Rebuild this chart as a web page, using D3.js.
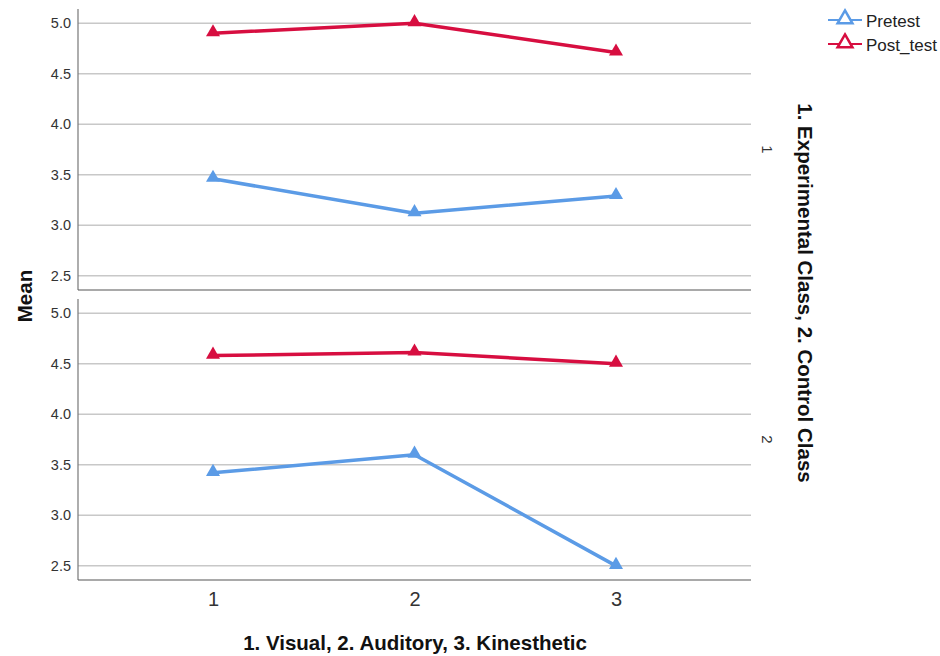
<!DOCTYPE html>
<html>
<head>
<meta charset="utf-8">
<script src="https://cdn.jsdelivr.net/npm/d3@7"></script>
<style>
  html, body { margin: 0; padding: 0; background: #fff; }
  svg { display: block; font-family: "Liberation Sans", Arial, sans-serif; }
</style>
</head>
<body>
<svg id="chart" width="940" height="656"></svg>
<script>
// Learning styles on the x axis, one panel per class
const styles = [1, 2, 3];
const classes = ["1", "2"];
const seriesNames = ["Pretest", "Post_test"];
const yTicks = [2.5, 3.0, 3.5, 4.0, 4.5, 5.0];

// Means per class: [Visual, Auditory, Kinesthetic]
const pretestExperimental = [3.46, 3.12, 3.29];
const posttestExperimental = [4.90, 5.00, 4.71];
const pretestControl = [3.42, 3.60, 2.50];
const posttestControl = [4.58, 4.61, 4.50];

const panelData = [
  { cls: classes[0], series: [pretestExperimental, posttestExperimental] },
  { cls: classes[1], series: [pretestControl, posttestControl] }
];
const colors = ["#5b9be6", "#d70e40"];

const svg = d3.select("#chart");
const left = 78, right = 751;
const panels = [{ top: 9, bottom: 290 }, { top: 299, bottom: 580 }];

const x = d3.scaleLinear().domain([0.33, 3.67]).range([left, right]);

const tri = d3.symbol().type(d3.symbolTriangle).size(85);

panelData.forEach((pd, i) => {
  const p = panels[i];
  const y = d3.scaleLinear().domain([2.36, 5.14]).range([p.bottom, p.top]);
  const g = svg.append("g");

  // gridlines
  g.selectAll("line.grid").data(yTicks).join("line")
    .attr("x1", left).attr("x2", right)
    .attr("y1", d => y(d)).attr("y2", d => y(d))
    .attr("stroke", "#c8c8c8").attr("stroke-width", 1.5);

  // y axis
  const yAxis = d3.axisLeft(y).tickValues(yTicks).tickFormat(d3.format(".1f")).tickSize(0).tickPadding(7);
  const ya = g.append("g").attr("transform", `translate(${left},0)`).call(yAxis);
  ya.select(".domain").remove();
  ya.selectAll("text").attr("font-size", 14.5).attr("fill", "#333")
    .attr("font-family", "'Liberation Sans', Arial, sans-serif");

  // frame: left edge and bottom edge
  g.append("line").attr("x1", left).attr("x2", left).attr("y1", p.top).attr("y2", p.bottom)
    .attr("stroke", "#777").attr("stroke-width", 1.2);
  g.append("line").attr("x1", left).attr("x2", right).attr("y1", p.bottom).attr("y2", p.bottom)
    .attr("stroke", "#555").attr("stroke-width", 1.2);

  // series lines and markers
  pd.series.forEach((vals, s) => {
    const pts = styles.map((st, k) => [st, vals[k]]);
    g.append("path").datum(pts)
      .attr("d", d3.line().x(d => x(d[0])).y(d => y(d[1])))
      .attr("fill", "none").attr("stroke", colors[s]).attr("stroke-width", 3.5)
      .attr("stroke-linejoin", "round");
    g.selectAll(null).data(pts).join("path")
      .attr("d", tri)
      .attr("transform", d => `translate(${x(d[0])},${y(d[1]) - 1})`)
      .attr("fill", colors[s]);
  });

  // panel strip label
  const cy = (p.top + p.bottom) / 2;
  svg.append("text")
    .attr("transform", `translate(${767},${cy}) rotate(90)`)
    .attr("text-anchor", "middle").attr("dominant-baseline", "central")
    .attr("font-size", 15).attr("fill", "#333").text(pd.cls);
});

// x axis
const xAxis = d3.axisBottom(x).tickValues(styles).tickFormat(d3.format("d")).tickSize(0).tickPadding(12);
const xa = svg.append("g").attr("transform", `translate(0,${panels[1].bottom})`).call(xAxis);
xa.select(".domain").remove();
xa.selectAll("text").attr("font-size", 20).attr("fill", "#333")
  .attr("font-family", "'Liberation Sans', Arial, sans-serif");

// axis titles
svg.append("text").attr("x", 415).attr("y", 650).attr("text-anchor", "middle")
  .attr("font-size", 20.5).attr("font-weight", "bold").attr("fill", "#111")
  .text("1. Visual, 2. Auditory, 3. Kinesthetic");

svg.append("text").attr("transform", "translate(24,296) rotate(-90)")
  .attr("text-anchor", "middle").attr("dominant-baseline", "central")
  .attr("font-size", 20.5).attr("font-weight", "bold").attr("fill", "#111").text("Mean");

svg.append("text").attr("transform", "translate(805,293) rotate(90)")
  .attr("text-anchor", "middle").attr("dominant-baseline", "central")
  .attr("font-size", 20.5).attr("font-weight", "bold").attr("fill", "#111")
  .text("1. Experimental Class, 2. Control Class");

// legend
const legend = svg.append("g");
seriesNames.forEach((name, s) => {
  const ly = 20 + s * 24;
  legend.append("line").attr("x1", 828).attr("x2", 862).attr("y1", ly).attr("y2", ly)
    .attr("stroke", colors[s]).attr("stroke-width", 2);
  legend.append("path").attr("d", d3.symbol().type(d3.symbolTriangle).size(95))
    .attr("transform", `translate(845,${ly - 1})`)
    .attr("fill", "#fff").attr("stroke", colors[s]).attr("stroke-width", 2.5);
  legend.append("text").attr("x", 866).attr("y", ly + 1).attr("dominant-baseline", "central")
    .attr("font-size", 17).attr("fill", "#222").text(name);
});
</script>
</body>
</html>
